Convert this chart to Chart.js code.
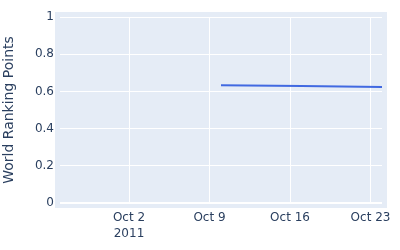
<!DOCTYPE html>
<html>
<head>
<meta charset="utf-8">
<script src="https://cdn.jsdelivr.net/npm/chart.js@4"></script>
<style>
    html, body { margin: 0; padding: 0; background: #fff; }
    #wrap { width: 400px; height: 250px; }
</style>
</head>
<body>
<div id="wrap"><canvas id="chart"></canvas></div>
<script>
// Data
const dates = ['2011-10-10', '2011-10-17', '2011-10-24'];
const points = [0.633, 0.629, 0.624];
const tickDates = ['2011-10-02', '2011-10-09', '2011-10-16', '2011-10-23'];
const tickLabels = [['Oct 2', '2011'], 'Oct 9', 'Oct 16', 'Oct 23'];
const yTicks = [0, 0.2, 0.4, 0.6, 0.8, 1];
const xRange = ['2011-09-26', '2011-10-24'];

const toMs = s => Date.parse(s + 'T00:00:00Z');
const textColor = '#2a3f5f';
const font = 'DejaVu Sans';

// plotly-like background that sticks out a bit past the grid
const plotBg = {
    id: 'plotBg',
    beforeDraw(chart) {
        const { ctx, chartArea: a } = chart;
        ctx.save();
        ctx.fillStyle = '#e5ecf6';
        ctx.fillRect(a.left - 5, a.top - 5, a.right - a.left + 10, a.bottom - a.top + 10);
        ctx.restore();
    }
};

new Chart(document.getElementById('chart'), {
    type: 'line',
    data: {
        datasets: [{
            data: dates.map((d, i) => ({ x: toMs(d), y: points[i] })),
            borderColor: '#4169e1',
            borderWidth: 2,
            pointRadius: 0,
            fill: false,
            tension: 0
        }]
    },
    options: {
        responsive: true,
        maintainAspectRatio: false,
        animation: false,
        layout: { padding: { top: 17, right: 18, left: 0, bottom: 0 } },
        plugins: { legend: { display: false }, tooltip: { enabled: false } },
        scales: {
            x: {
                type: 'linear',
                min: toMs(xRange[0]),
                max: toMs(xRange[1]),
                afterBuildTicks: axis => { axis.ticks = tickDates.map(d => ({ value: toMs(d) })); },
                afterFit: axis => { axis.height = 47; },
                grid: { color: '#ffffff', lineWidth: 1, drawTicks: false },
                border: { display: false },
                ticks: {
                    autoSkip: false,
                    maxRotation: 0,
                    padding: 7,
                    color: textColor,
                    font: { family: font, size: 12, lineHeight: 1.3 },
                    callback: v => tickLabels[tickDates.findIndex(d => toMs(d) === v)]
                }
            },
            y: {
                min: 0,
                max: 1,
                afterBuildTicks: axis => { axis.ticks = yTicks.map(v => ({ value: v })); },
                afterFit: axis => { axis.width = 60; },
                grid: {
                    color: '#ffffff',
                    lineWidth: ctx => (ctx.tick && ctx.tick.value === 0 ? 2 : 1),
                    drawTicks: false
                },
                border: { display: false },
                ticks: {
                    padding: 6,
                    color: textColor,
                    font: { family: font, size: 12 },
                    callback: v => String(v)
                },
                title: {
                    display: true,
                    text: 'World Ranking Points',
                    color: textColor,
                    font: { family: font, size: 14 },
                    padding: { top: 1, bottom: 0 }
                }
            }
        }
    },
    plugins: [plotBg]
});
</script>
</body>
</html>
